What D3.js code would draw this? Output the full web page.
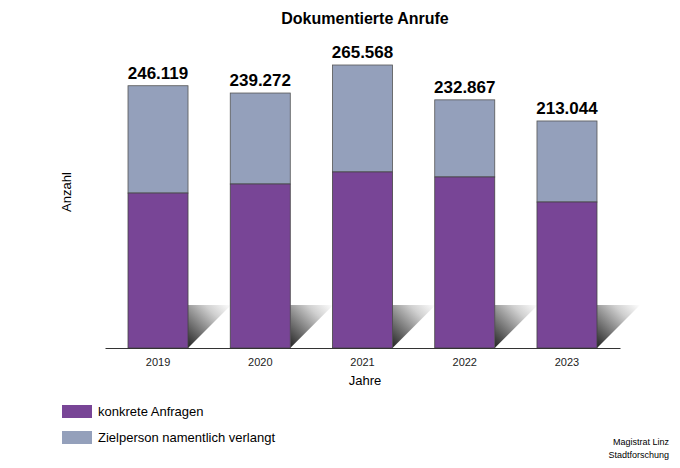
<!DOCTYPE html>
<html><head><meta charset="utf-8">
<script src="https://cdn.jsdelivr.net/npm/d3@7"></script>
<style>body{margin:0;background:#fff;font-family:Arial,"Liberation Sans",sans-serif}</style>
</head><body>
<script>
var years = ["2019", "2020", "2021", "2022", "2023"];
var konkret = [145400, 153900, 165200, 160500, 137000];
var totals = [246119, 239272, 265568, 232867, 213044];
var totalLabels = ["246.119", "239.272", "265.568", "232.867", "213.044"];

var W = 680, H = 468, base = 348;
var svg = d3.select("body").append("svg").attr("width", W).attr("height", H);

var x = d3.scaleBand().domain(years).range([105, 620]).paddingInner(0.413).paddingOuter(0.225);
var y = d3.scaleLinear().domain([0, 265568]).range([base, 65]);

var defs = svg.append("defs");
var g = defs.append("linearGradient").attr("id", "sh").attr("x1", 1).attr("y1", 0).attr("x2", 0).attr("y2", 1);
g.append("stop").attr("offset", 0).attr("stop-color", "#ffffff");
g.append("stop").attr("offset", 0.3).attr("stop-color", "#d0d0d0");
g.append("stop").attr("offset", 1).attr("stop-color", "#222");

svg.append("text").attr("x", 365).attr("y", 24).attr("text-anchor", "middle")
  .attr("font-size", 16).attr("font-weight", "bold").text("Dokumentierte Anrufe");

var bw = x.bandwidth();
svg.selectAll(".sh").data(years).enter().append("path")
  .attr("fill", "url(#sh)")
  .attr("d", function(d) { var r = x(d) + bw; return "M" + r + "," + (base - 43) + "L" + (r + 43) + "," + (base - 43) + "L" + r + "," + base + "Z"; });

svg.selectAll(".top").data(years).enter().append("rect")
  .attr("x", function(d) { return x(d); }).attr("width", bw)
  .attr("y", function(d, i) { return y(totals[i]); })
  .attr("height", function(d, i) { return y(konkret[i]) - y(totals[i]); })
  .attr("fill", "#94a0bb").attr("stroke", "#555").attr("stroke-width", 0.8);
svg.selectAll(".bot").data(years).enter().append("rect")
  .attr("x", function(d) { return x(d); }).attr("width", bw)
  .attr("y", function(d, i) { return y(konkret[i]); })
  .attr("height", function(d, i) { return base - y(konkret[i]); })
  .attr("fill", "#784596").attr("stroke", "#444").attr("stroke-width", 0.8);

svg.selectAll(".lbl").data(years).enter().append("text")
  .attr("x", function(d) { return x(d) + bw / 2; })
  .attr("y", function(d, i) { return y(totals[i]) - 7; })
  .attr("text-anchor", "middle").attr("font-size", 17).attr("font-weight", "bold")
  .text(function(d, i) { return totalLabels[i]; });

var ax = svg.append("g").attr("transform", "translate(0," + base + ")")
  .call(d3.axisBottom(x).tickSize(0).tickPadding(10));
ax.select(".domain").attr("stroke", "#333");
ax.selectAll("text").attr("font-size", 11).attr("font-family", "Arial,'Liberation Sans',sans-serif").attr("fill", "#222");

svg.append("text").attr("x", 365).attr("y", 385).attr("text-anchor", "middle").attr("font-size", 13).text("Jahre");
svg.append("text").attr("transform", "translate(71,192) rotate(-90)").attr("text-anchor", "middle").attr("font-size", 13).text("Anzahl");

var leg = [["konkrete Anfragen", "#784596"], ["Zielperson namentlich verlangt", "#94a0bb"]];
leg.forEach(function(l, i) {
  svg.append("rect").attr("x", 62).attr("y", 405 + i * 26).attr("width", 30).attr("height", 13).attr("fill", l[1]);
  svg.append("text").attr("x", 98).attr("y", 416 + i * 26).attr("font-size", 13).text(l[0]);
});
svg.append("text").attr("x", 669).attr("y", 445).attr("text-anchor", "end").attr("font-size", 9).text("Magistrat Linz");
svg.append("text").attr("x", 669).attr("y", 458).attr("text-anchor", "end").attr("font-size", 9).text("Stadtforschung");
</script>
</body></html>
